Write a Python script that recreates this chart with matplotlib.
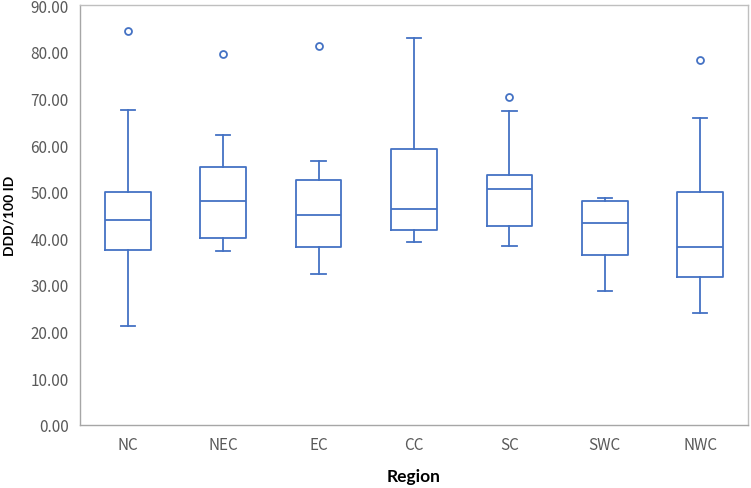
import matplotlib
matplotlib.use('Agg')
import matplotlib.pyplot as plt
import numpy as np

regions = ['NC', 'NEC', 'EC', 'CC', 'SC', 'SWC', 'NWC']
whislo = [21.3, 37.2, 32.3, 39.3, 38.4, 28.7, 24.0]
q1 = [37.5, 40.0, 38.2, 41.8, 42.7, 36.5, 31.8]
med = [43.9, 48.1, 45.0, 46.3, 50.6, 43.3, 38.2]
q3 = [49.9, 55.4, 52.4, 59.2, 53.5, 47.9, 50.0]
whishi = [67.6, 62.1, 56.6, 82.9, 67.2, 48.6, 65.9]
outliers = [[84.5], [79.5], [81.2], [], [70.3], [], [78.3]]

BLUE = '#4472C4'
GRAY = '#595959'

plt.rcParams['font.family'] = ['Noto Sans CJK SC', 'DejaVu Sans']

stats = []
for i in range(len(regions)):
    stats.append(dict(label=regions[i], whislo=whislo[i], q1=q1[i], med=med[i],
                      q3=q3[i], whishi=whishi[i], fliers=outliers[i]))

fig = plt.figure(figsize=(7.51, 4.89), dpi=100)
ax = fig.add_axes([0.1065, 0.129, 0.8895, 0.8585])

lw = 1.3
ax.bxp(stats, positions=np.arange(len(regions)), widths=0.48,
       boxprops=dict(color=BLUE, linewidth=lw),
       medianprops=dict(color=BLUE, linewidth=lw),
       whiskerprops=dict(color=BLUE, linewidth=lw),
       capprops=dict(color=BLUE, linewidth=lw),
       capwidths=0.15,
       flierprops=dict(marker='o', markersize=5, markerfacecolor='none',
                       markeredgecolor=BLUE, markeredgewidth=1.3))

ax.set_xlim(-0.5, len(regions) - 0.5)
ax.set_ylim(0, 90)
ax.set_yticks(np.arange(0, 91, 10))
ax.set_yticklabels([f'{v:.2f}' for v in np.arange(0, 91, 10)])
ax.set_xticks(np.arange(len(regions)))
ax.set_xticklabels(regions)
ax.tick_params(length=0, labelsize=11, colors=GRAY, pad=8)
for s in ax.spines.values():
    s.set_color('#BFBFBF')
    s.set_linewidth(1.0)
ax.spines['left'].set_color('#A6A6A6')
ax.spines['bottom'].set_color('#A6A6A6')

ax.set_xlabel('Region', fontsize=12.5, fontweight='bold', family=['Lato', 'DejaVu Sans'],
              color='black', labelpad=11)
ax.set_ylabel('DDD/100 ID', fontsize=10, fontweight='bold', family=['Lato', 'DejaVu Sans'],
              color='black', labelpad=11)

plt.savefig('out.png', dpi=100)
